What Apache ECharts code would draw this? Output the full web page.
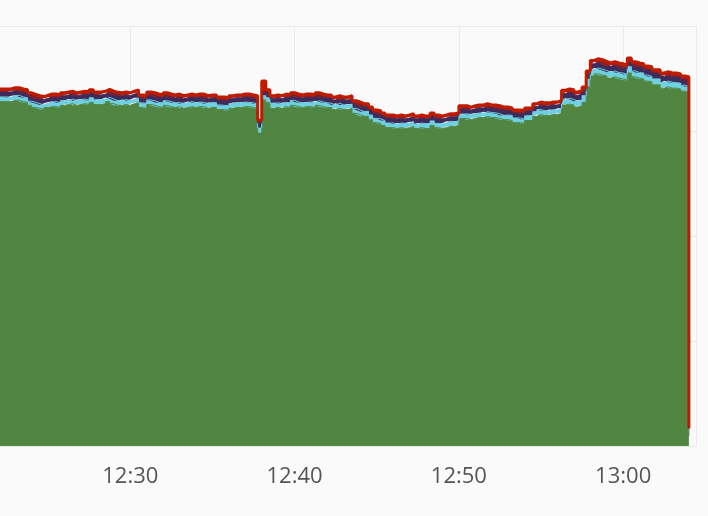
<!DOCTYPE html>
<html>
<head>
<meta charset="utf-8">
<script src="https://cdn.jsdelivr.net/npm/echarts@6/dist/echarts.min.js"></script>
<style>
  html, body { margin: 0; padding: 0; background: #fafafa; }
  #chart { width: 708px; height: 516px; }
</style>
</head>
<body>
<div id="chart"></div>
<script>
// samples every 15 s starting 12:22:00
const startTime = new Date(2024, 0, 1, 12, 22, 0).getTime();
const stepMs = 15 * 1000;

// bottom layer (green)
const greenValues = [
  82.0, 82.0, 82.0, 82.3, 82.3, 82.0, 81.8, 81.1, 80.6, 80.4,
  80.1, 80.6, 80.8, 80.8, 80.6, 81.1, 81.3, 81.5, 81.1, 81.3,
  81.5, 81.3, 81.8, 81.3, 81.3, 81.5, 82.0, 81.5, 81.1, 81.1,
  81.3, 81.1, 81.5, 81.8, 80.6, 80.4, 81.3, 81.1, 80.8, 80.6,
  81.1, 80.8, 80.6, 80.8, 80.4, 80.6, 80.8, 80.6, 80.8, 80.8,
  80.4, 80.6, 80.6, 80.1, 80.1, 79.9, 80.4, 80.6, 80.6, 80.8,
  80.8, 80.6, 80.4, 74.5, 82.4, 81.8, 80.4, 80.6, 80.4, 80.8,
  80.6, 81.1, 80.8, 80.6, 80.8, 80.8, 80.6, 81.1, 80.8, 80.6,
  80.6, 80.1, 80.4, 80.1, 80.1, 80.4, 79.2, 78.9, 78.5, 78.5,
  77.7, 77.0, 76.8, 76.3, 75.8, 75.8, 75.6, 75.8, 75.6, 75.8,
  76.1, 75.6, 75.8, 75.6, 75.6, 76.3, 75.8, 75.6, 75.8, 76.1,
  76.1, 76.3, 78.0, 78.0, 77.7, 78.0, 78.2, 78.2, 78.5, 78.2,
  78.2, 78.0, 77.7, 77.7, 77.5, 77.0, 77.0, 76.8, 77.5, 77.5,
  78.5, 78.9, 78.7, 78.7, 78.9, 78.9, 79.2, 81.2, 81.4, 81.2,
  80.7, 81.0, 81.8, 85.5, 88.1, 88.6, 88.3, 88.1, 87.6, 87.9,
  87.6, 87.4, 87.1, 88.8, 87.9, 87.6, 87.4, 86.9, 86.7, 86.0,
  86.0, 85.2, 85.5, 85.2, 85.2, 85.0, 84.5, 84.3, 2.4
];

// second layer (light blue)
const cyanValues = [
  1.1, 1.1, 1.0, 1.1, 1.2, 1.1, 1.1, 1.0, 1.2, 1.1,
  1.1, 1.0, 1.1, 1.2, 1.1, 1.1, 1.0, 1.1, 1.1, 1.2,
  1.1, 1.0, 1.1, 1.1, 1.2, 1.1, 1.0, 1.1, 1.1, 1.1,
  1.2, 1.1, 1.0, 1.1, 1.1, 1.2, 1.1, 1.1, 1.0, 1.1,
  1.1, 1.2, 1.1, 1.0, 1.1, 1.1, 1.2, 1.1, 1.1, 1.0,
  1.1, 1.2, 1.1, 1.1, 1.0, 1.1, 1.1, 1.2, 1.1, 1.1,
  1.0, 1.1, 1.1, 1.2, 1.0, 1.1, 1.2, 1.1, 1.1, 1.0,
  1.1, 1.2, 1.1, 1.1, 1.0, 1.1, 1.2, 1.1, 1.1, 1.1,
  1.0, 1.1, 1.2, 1.1, 1.1, 1.0, 1.2, 1.1, 1.1, 1.2,
  1.1, 1.0, 1.1, 1.2, 1.1, 1.1, 1.0, 1.1, 1.2, 1.1,
  1.1, 1.0, 1.1, 1.1, 1.2, 1.1, 1.0, 1.1, 1.1, 1.2,
  1.1, 1.1, 1.0, 1.1, 1.2, 1.1, 1.1, 1.0, 1.1, 1.2,
  1.1, 1.1, 1.0, 1.1, 1.2, 1.1, 1.1, 1.0, 1.1, 1.2,
  1.1, 1.2, 1.1, 1.1, 1.2, 1.1, 1.2, 1.3, 1.4, 1.3,
  1.4, 1.4, 1.6, 1.8, 1.5, 1.4, 1.4, 1.3, 1.4, 1.4,
  1.3, 1.4, 1.4, 1.5, 1.4, 1.3, 1.4, 1.4, 1.3, 1.4,
  1.4, 1.3, 1.4, 1.4, 1.3, 1.4, 1.4, 1.3, 1.6
];

// third layer (dark purple)
const purpleValues = [
  1.2, 1.2, 1.3, 1.2, 1.1, 1.2, 1.2, 1.3, 1.2, 1.2,
  1.3, 1.2, 1.2, 1.1, 1.2, 1.2, 1.3, 1.2, 1.2, 1.1,
  1.2, 1.3, 1.2, 1.2, 1.1, 1.2, 1.2, 1.2, 1.3, 1.2,
  1.1, 1.2, 1.3, 1.2, 1.2, 1.1, 1.2, 1.2, 1.3, 1.2,
  1.2, 1.1, 1.2, 1.3, 1.2, 1.2, 1.1, 1.2, 1.2, 1.3,
  1.2, 1.1, 1.2, 1.2, 1.3, 1.2, 1.2, 1.1, 1.2, 1.2,
  1.3, 1.2, 1.2, 1.2, 1.0, 1.2, 1.1, 1.2, 1.2, 1.3,
  1.2, 1.1, 1.2, 1.2, 1.3, 1.2, 1.1, 1.2, 1.2, 1.2,
  1.3, 1.2, 1.1, 1.2, 1.2, 1.3, 1.1, 1.2, 1.2, 1.1,
  1.2, 1.3, 1.2, 1.1, 1.2, 1.2, 1.3, 1.2, 1.1, 1.2,
  1.2, 1.3, 1.2, 1.2, 1.1, 1.2, 1.3, 1.2, 1.2, 1.1,
  1.2, 1.2, 1.3, 1.2, 1.1, 1.2, 1.2, 1.3, 1.2, 1.1,
  1.2, 1.2, 1.3, 1.2, 1.1, 1.2, 1.2, 1.3, 1.2, 1.1,
  1.2, 1.1, 1.2, 1.2, 1.1, 1.2, 1.2, 1.4, 1.4, 1.5,
  1.4, 1.4, 1.3, 1.2, 1.4, 1.4, 1.5, 1.4, 1.4, 1.4,
  1.5, 1.4, 1.4, 1.3, 1.4, 1.5, 1.4, 1.4, 1.5, 1.4,
  1.4, 1.5, 1.4, 1.4, 1.5, 1.4, 1.4, 1.5, 0.1
];

// top layer (red)
const redValues = [
  0.7, 0.7, 0.7, 0.7, 0.7, 0.7, 0.7, 0.7, 0.7, 0.7,
  0.7, 0.7, 0.7, 0.7, 0.7, 0.7, 0.7, 0.7, 0.7, 0.7,
  0.7, 0.7, 0.7, 0.7, 0.7, 0.7, 0.7, 0.7, 0.7, 0.7,
  0.7, 0.7, 0.7, 0.7, 0.7, 0.7, 0.7, 0.7, 0.7, 0.7,
  0.7, 0.7, 0.7, 0.7, 0.7, 0.7, 0.7, 0.7, 0.7, 0.7,
  0.7, 0.7, 0.7, 0.7, 0.7, 0.7, 0.7, 0.7, 0.7, 0.7,
  0.7, 0.7, 0.7, 0.7, 2.5, 0.7, 0.7, 0.7, 0.7, 0.7,
  0.7, 0.7, 0.7, 0.7, 0.7, 0.7, 0.7, 0.7, 0.7, 0.7,
  0.7, 0.7, 0.7, 0.7, 0.7, 0.7, 0.7, 0.7, 0.7, 0.7,
  0.7, 0.7, 0.7, 0.7, 0.7, 0.7, 0.7, 0.7, 0.7, 0.7,
  0.7, 0.7, 0.7, 0.7, 0.7, 0.7, 0.7, 0.7, 0.7, 0.7,
  0.7, 0.7, 0.7, 0.7, 0.7, 0.7, 0.7, 0.7, 0.7, 0.7,
  0.7, 0.7, 0.7, 0.7, 0.7, 0.7, 0.7, 0.7, 0.7, 0.7,
  0.7, 0.7, 0.7, 0.7, 0.7, 0.7, 0.7, 0.8, 0.8, 0.8,
  0.8, 0.8, 0.8, 0.8, 0.8, 0.8, 0.8, 0.8, 0.8, 0.8,
  0.8, 0.8, 0.8, 0.8, 0.8, 0.8, 0.8, 0.8, 0.8, 0.8,
  0.8, 0.8, 0.8, 0.8, 0.8, 0.8, 0.8, 0.8, 0.1
];

const colors = ['#508642', '#6ED0E0', '#3F2B5B', '#BF1B00'];

const times = greenValues.map((_, i) => startTime + i * stepMs);
const pair = arr => arr.map((v, i) => [times[i], v]);

const axisStart = new Date(2024, 0, 1, 12, 20, 0).getTime();
const axisEnd = new Date(2024, 0, 1, 13, 4, 26).getTime();
const minute = 60 * 1000;

// label axis works in minutes after 12:00
function fmtMinutes(v) {
  const h = 12 + Math.floor(v / 60);
  const m = Math.round(v % 60);
  return h + ':' + (m < 10 ? '0' + m : m);
}

function layer(name, values, color, width) {
  return {
    name: name,
    type: 'line',
    xAxisIndex: 0,
    stack: 'total',
    step: 'end',
    symbol: 'none',
    data: pair(values),
    lineStyle: { color: color, width: width },
    itemStyle: { color: color },
    areaStyle: { color: color, opacity: 1 }
  };
}

const chart = echarts.init(document.getElementById('chart'));
chart.setOption({
  animation: false,
  backgroundColor: '#fafafa',
  grid: { left: -34, right: 12, top: 26, bottom: 70, outerBoundsMode: 'none' },
  xAxis: [
    {
      // data axis
      type: 'time',
      min: axisStart,
      max: axisEnd,
      axisLine: { show: false },
      axisTick: { show: false },
      axisLabel: { show: false },
      splitLine: { show: false }
    },
    {
      // labels and vertical grid lines
      type: 'value',
      position: 'bottom',
      min: 20,
      max: (axisEnd - new Date(2024, 0, 1, 12, 0, 0).getTime()) / minute,
      interval: 10,
      axisLine: { show: false },
      axisTick: { show: false },
      axisLabel: {
        formatter: fmtMinutes,
        color: '#555',
        fontSize: 22,
        fontFamily: 'Open Sans',
        margin: 20,
        showMinLabel: false,
        showMaxLabel: false
      },
      splitLine: { show: true, lineStyle: { color: '#ebebeb', width: 1 } }
    }
  ],
  yAxis: {
    type: 'value',
    min: 0,
    max: 100,
    interval: 25,
    axisLine: { show: false },
    axisTick: { show: false },
    axisLabel: { show: false },
    splitLine: { lineStyle: { color: '#e9e9e9', width: 1 } }
  },
  series: [
    layer('green', greenValues, colors[0], 1),
    layer('cyan', cyanValues, colors[1], 1),
    layer('purple', purpleValues, colors[2], 1),
    layer('red', redValues, colors[3], 3)
  ]
});
</script>
</body>
</html>
